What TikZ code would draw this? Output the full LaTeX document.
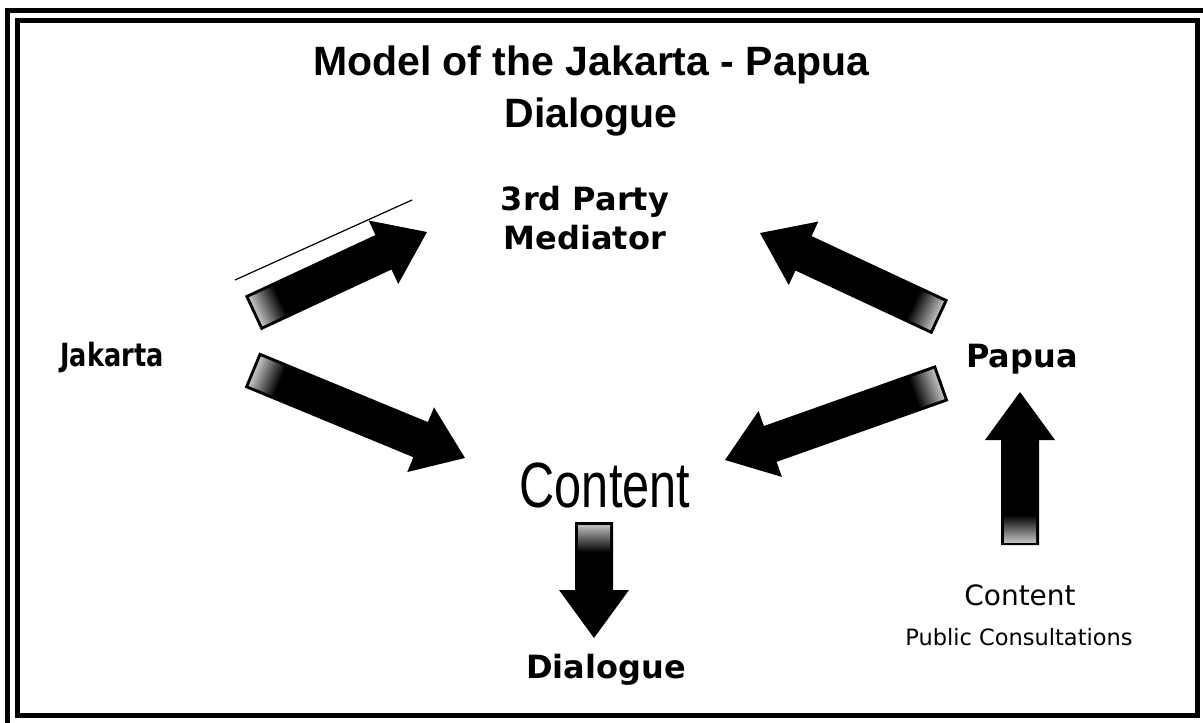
\documentclass[tikz,border=0pt]{standalone}
\usepackage{fontspec}
\newfontfamily\arialfont{Liberation Sans}
\newfontfamily\verdanafont{DejaVu Sans}

% block arrow from a tail coordinate to a tip coordinate
\newcommand{\blockarrow}[2]{%
  \pgfpointdiff{\pgfpointanchor{#1}{center}}{\pgfpointanchor{#2}{center}}%
  \pgfgetlastxy{\arrowdx}{\arrowdy}%
  \pgfmathsetmacro{\arrowangle}{atan2(\arrowdy,\arrowdx)}%
  \pgfmathsetmacro{\arrowlength}{veclen(\arrowdx,\arrowdy)}%
  \begin{scope}[transform canvas={shift={(#1)},rotate=\arrowangle},x=1pt,y=1pt]
    \fill[black] (0,-19) -- (\arrowlength-48,-19) -- (\arrowlength-48,-35) -- (\arrowlength,0)
      -- (\arrowlength-48,35) -- (\arrowlength-48,19) -- (0,19) -- cycle;
    \shade[left color=black!25, right color=black] (3,-16) rectangle (30,16);
  \end{scope}}

\begin{document}
\begin{tikzpicture}[x=1pt, y=-1pt,
        headtext/.style={font=\arialfont\bfseries\fontsize{41}{52}\selectfont, align=center, anchor=base},
        partytext/.style={font=\verdanafont\bfseries\fontsize{32}{39}\selectfont, align=center, anchor=base},
        bigtext/.style={font=\arialfont\fontsize{64}{64}\selectfont, anchor=base},
        notetext/.style={font=\verdanafont\fontsize{28}{32}\selectfont, anchor=base},
        smalltext/.style={font=\verdanafont\fontsize{22.5}{26}\selectfont, anchor=base},]

        \useasboundingbox[fill=white] (0,0) rectangle (1203,723);

        % Frame
        \draw[line width=5pt] (17,20) rectangle (1197,715);
        \draw[line width=5pt] (7.5,723) -- (7.5,10) -- (1203,10);

        % Title (base is the last line)
        \node[headtext] (title) at (591,127) {Model of the Jakarta - Papua\\Dialogue};

        % Parties
        \node[partytext] (mediator) at (585,249) {3rd Party\\Mediator};
        \node[partytext] (jakarta) at (112,366) {\scalebox{0.8}[1]{Jakarta}};
        \node[partytext] (papua) at (1022,367) {Papua};
        \node[bigtext] (content) at (605,507) {\scalebox{0.76}[1]{Content}};
        \node[partytext] (dialogue) at (606,678) {Dialogue};
        \node[notetext] (papua-content) at (1020,605) {Content};
        \node[smalltext] (consult) at (1019,645) {Public Consultations};

        % Arrows
        \coordinate (jm-tail) at (253,313);
        \coordinate (jm-tip) at (427,232);
        \coordinate (jc-tail) at (252,370);
        \coordinate (jc-tip) at (465,458);
        \coordinate (pm-tail) at (940,317);
        \coordinate (pm-tip) at (760,233);
        \coordinate (pc-tail) at (942,383);
        \coordinate (pc-tip) at (725,460);
        \coordinate (cp-tail) at (1020,545);
        \coordinate (cp-tip) at (1020,392);
        \coordinate (cd-tail) at (594,522);
        \coordinate (cd-tip) at (594,638);
        \blockarrow{jm-tail}{jm-tip}
        \blockarrow{jc-tail}{jc-tip}
        \blockarrow{pm-tail}{pm-tip}
        \blockarrow{pc-tail}{pc-tip}
        \blockarrow{cp-tail}{cp-tip}
        \blockarrow{cd-tail}{cd-tip}

        % Pen stroke over the first arrow
        \coordinate (pen-a) at (235,280);
        \coordinate (pen-b) at (412,200);
        \draw[line width=1.2pt] (pen-a) -- (pen-b);
    \end{tikzpicture}
\end{document}
